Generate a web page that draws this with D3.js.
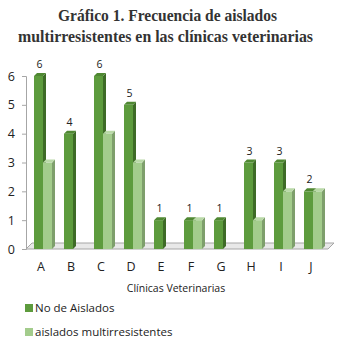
<!DOCTYPE html>
<html lang="es">
<head>
    <meta charset="UTF-8">
    <title>Gráfico 1</title>
    <script src="https://d3js.org/d3.v7.min.js"></script>
    <style>
        body { margin: 0; padding: 0; background: #fff; }
        svg { display: block; }
    </style>
</head>
<body>
    <svg class="chart"></svg>
    <script>
        const categories = ["A", "B", "C", "D", "E", "F", "G", "H", "I", "J"];
        const aislados = [6, 4, 6, 5, 1, 1, 1, 3, 3, 2];
        const multirresistentes = [3, 0, 4, 3, 0, 1, 0, 1, 2, 2];
        const yTicks = [0, 1, 2, 3, 4, 5, 6];
        const seriesNames = ["No de Aislados", "aislados multirresistentes"];

        const width = 345, height = 347;
        const depth = 3;

        const svg = d3.select(".chart").attr("width", width).attr("height", height);

        const x = d3.scaleBand().domain(categories).range([26, 326]);
        const y = d3.scaleLinear().domain([0, 6]).range([249, 76]);

        const colors = [
            { front: "#5d9b3d", side: "#3e6b27", top: "#4f8832" },
            { front: "#a3cc8c", side: "#7e9f6c", top: "#b9d9a7" }
        ];

        // title
        const title = svg.append("g")
            .attr("font-family", "'Liberation Serif', serif")
            .attr("font-weight", "bold")
            .attr("font-size", 16.5)
            .attr("fill", "#333");
        title.append("text").attr("x", 58).attr("y", 21)
            .attr("textLength", 219).attr("lengthAdjust", "spacingAndGlyphs")
            .text("Gráfico 1. Frecuencia de aislados");
        title.append("text").attr("x", 18).attr("y", 42)
            .attr("textLength", 295).attr("lengthAdjust", "spacingAndGlyphs")
            .text("multirresistentes en las clínicas veterinarias");

        // floor
        svg.append("path")
            .attr("d", `M26,${y(0)} L32,${y(0) - 6} L334,${y(0) - 6} L328,${y(0)} Z`)
            .attr("fill", "#e8e8e8")
            .attr("stroke", "#a6a6a6")
            .attr("stroke-width", 1);

        // y axis
        const yAxis = svg.append("g")
            .attr("transform", "translate(26,0)")
            .call(d3.axisLeft(y).tickValues(yTicks).tickFormat(d3.format("d")).tickSize(4).tickPadding(7));
        yAxis.select(".domain").attr("stroke", "#a6a6a6");
        yAxis.selectAll(".tick line").attr("stroke", "#a6a6a6");
        yAxis.selectAll(".tick text")
            .attr("font-family", "'Open Sans', sans-serif")
            .attr("font-size", 12.5)
            .attr("fill", "#222");

        // x labels
        const xAxis = svg.append("g")
            .attr("transform", "translate(0,262)")
            .call(d3.axisBottom(x).tickSize(0).tickPadding(0));
        xAxis.select(".domain").remove();
        xAxis.selectAll(".tick text")
            .attr("font-family", "'Open Sans', sans-serif")
            .attr("font-size", 12.5)
            .attr("fill", "#222");

        svg.append("text")
            .attr("x", 176).attr("y", 292)
            .attr("text-anchor", "middle")
            .attr("font-family", "'Open Sans', sans-serif")
            .attr("font-size", 10.5)
            .attr("fill", "#222")
            .text("Clínicas Veterinarias");

        // bars
        const barW = 9;
        const series = [aislados, multirresistentes];
        function drawBar(g, x0, v, c) {
            if (v <= 0) return;
            const y0 = y(0), y1 = y(v);
            g.append("rect").attr("x", x0).attr("y", y1).attr("width", barW).attr("height", y0 - y1).attr("fill", c.front);
            g.append("path")
                .attr("d", `M${x0 + barW},${y1} L${x0 + barW + depth},${y1 - depth} L${x0 + barW + depth},${y0 - depth} L${x0 + barW},${y0} Z`)
                .attr("fill", c.side);
            g.append("path")
                .attr("d", `M${x0},${y1} L${x0 + depth},${y1 - depth} L${x0 + barW + depth},${y1 - depth} L${x0 + barW},${y1} Z`)
                .attr("fill", c.top);
        }
        const bars = svg.append("g");
        categories.forEach((cat, i) => {
            series.forEach((s, k) => {
                drawBar(bars, x(cat) + 8 + k * barW, s[i], colors[k]);
            });
        });

        // value labels for first series
        svg.append("g").selectAll("text")
            .data(categories)
            .join("text")
            .attr("x", d => x(d) + 8 + barW / 2 + 1)
            .attr("y", (d, i) => y(aislados[i]) - 8)
            .attr("text-anchor", "middle")
            .attr("font-family", "'Open Sans', sans-serif")
            .attr("font-size", 10.5)
            .attr("fill", "#222")
            .text((d, i) => aislados[i]);

        // legend
        const legend = svg.append("g").selectAll("g")
            .data(seriesNames)
            .join("g")
            .attr("transform", (d, i) => `translate(25,${304 + i * 24})`);
        legend.append("rect").attr("width", 8).attr("height", 8)
            .attr("fill", (d, i) => colors[i].front);
        legend.append("text").attr("x", 10).attr("y", 8)
            .attr("font-family", "'Open Sans', sans-serif")
            .attr("font-size", 11.5)
            .attr("fill", "#222")
            .text(d => d);
    </script>
</body>
</html>
